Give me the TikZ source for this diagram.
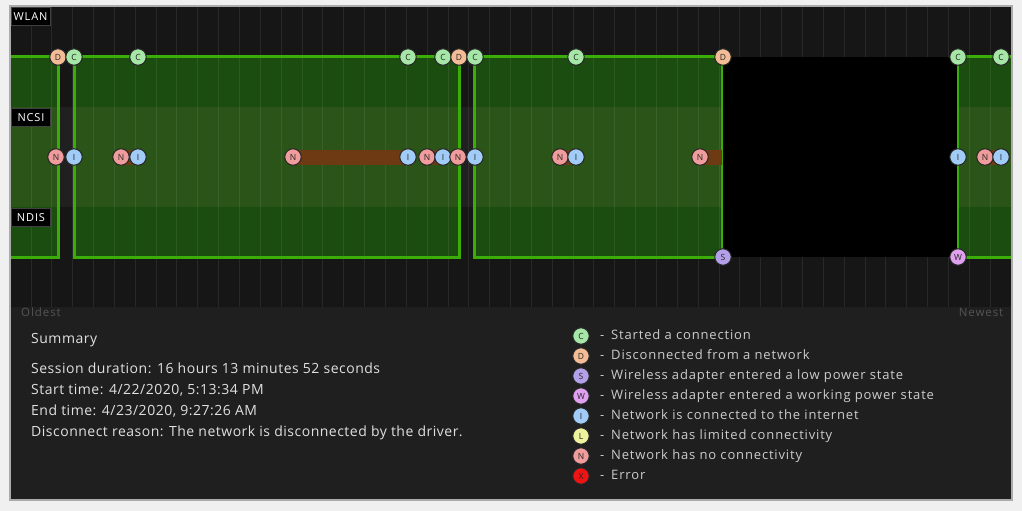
\documentclass[tikz,border=0pt]{standalone}
\usepackage{fontspec}
\setmainfont{Open Sans}
\newfontfamily\infofont[LetterSpace=3.6]{Open Sans}
\newfontfamily\keyfont[LetterSpace=6.5]{Open Sans}
\newfontfamily\tagfont[LetterSpace=8]{Open Sans}
\usetikzlibrary{positioning,backgrounds}
\definecolor{pagebg}{HTML}{F0F0F0}
\definecolor{framegray}{HTML}{ABABAB}
\definecolor{panelbg}{HTML}{1F1F1F}
\definecolor{chartbg}{HTML}{161616}
\definecolor{gapband}{HTML}{202020}
\definecolor{sessgreen}{HTML}{1B4C10}
\definecolor{bandgreen}{HTML}{2B5418}
\definecolor{edgegreen}{HTML}{3BAD08}
\definecolor{nointernet}{HTML}{6E3A14}
\definecolor{gridgray}{HTML}{FFFFFF}
\definecolor{stC}{HTML}{A6E6A6}
\definecolor{stD}{HTML}{F4BC96}
\definecolor{stS}{HTML}{B4A0E8}
\definecolor{stW}{HTML}{E0A0F0}
\definecolor{stI}{HTML}{A2CCF8}
\definecolor{stL}{HTML}{EEF29C}
\definecolor{stN}{HTML}{F09C9C}
\definecolor{stX}{HTML}{EE1414}

\begin{document}
\begin{tikzpicture}[
    x=1pt,y=-1pt,
    event/.style={
        circle,
        draw=black!85,
        line width=1pt,
        minimum size=16.5pt,
        inner sep=0pt,
        text=black!85,
        font=\fontsize{8.5}{8.5}\selectfont
    },
    tag/.style={
        draw=black!75!white,
        fill=black,
        line width=1pt,
        text=white,
        minimum width=39pt,
        minimum height=18pt,
        inner sep=0pt,
        font=\tagfont\fontsize{11}{11}\selectfont
    },
    edge/.style={draw=edgegreen,line width=3pt,line cap=butt},
    thinedge/.style={draw=edgegreen,line width=1.5pt},
    gapbar/.style={draw=nointernet,line width=15pt},
    infotext/.style={anchor=base west,inner sep=0pt,text=white!88!black,font=\infofont\fontsize{14}{14}\selectfont},
    legendtext/.style={anchor=base west,inner sep=0pt,text=white!80!black,font=\keyfont\fontsize{13}{13}\selectfont},
    endtext/.style={anchor=base,inner sep=0pt,text=white!33!black,font=\tagfont\fontsize{11.5}{11.5}\selectfont}
]
\useasboundingbox (0,0) rectangle (1022,511);

% event markers on the three rows
\foreach \xpos/\kind/\id in {58/D/d1,74/C/c1,138/C/c2,408/C/c3,443/C/c4,459/D/d2,475/C/c5,576/C/c6,723/D/d3,958/C/c7,1001/C/c8}
    \node[event,fill=st\kind] (\id) at (\xpos,57) {\kind};
\foreach \xpos/\kind/\id in {56/N/n1,74/I/i1,121/N/n2,138/I/i2,293/N/n3,408/I/i3,427/N/n4,443/I/i4,458/N/n5,475/I/i5,560/N/n6,576/I/i6,700/N/n7,958/I/i7,985/N/n8,1001/I/i8}
    \node[event,fill=st\kind] (\id) at (\xpos,157) {\kind};
\node[event,fill=stS] (s1) at (723,257) {S};
\node[event,fill=stW] (w1) at (958,257) {W};

\begin{scope}[on background layer]
    \fill[pagebg] (0,0) rectangle (1022,511);
    \fill[framegray] (9,5) rectangle (1013,501);
    \fill[panelbg] (11,7) rectangle (1011,499);
    \fill[chartbg] (11,7) rectangle (1011,307);
    \fill[gapband] (11,107) rectangle (1011,207);
    % sessions
    \foreach \xa/\xb in {11/58,74/459,474/722,958/1011} {
        \fill[sessgreen] (\xa,57) rectangle (\xb,257);
        \fill[bandgreen] (\xa,107) rectangle (\xb,207);
    }
    \foreach \k in {0,...,46}
        \draw[gridgray,opacity=0.08,line width=1pt] (31+20.85*\k,7) -- (31+20.85*\k,307);
    \fill[black] (722,57) rectangle (958,257);
    \draw[edge] (11,57) -- (58,57) -- (58,257) -- (11,257);
    \draw[edge] (459,57) -- (74,57) -- (74,257) -- (459,257) -- cycle;
    \draw[edge] (722,57) -- (474,57) -- (474,257) -- (722,257);
    \draw[edge] (1011,57) -- (958,57);
    \draw[edge] (958,257) -- (1011,257);
    \draw[thinedge] (722,57) -- (722,257);
    \draw[thinedge] (958,57) -- (958,257);
    % no connectivity spans
    \foreach \from/\to in {n2/i2,n3/i3,n4/i4,n6/i6,n8/i8}
        \draw[gapbar] (\from.center) -- (\to.center);
    \draw[gapbar] (n7.center) -- (722,157);
\end{scope}

\node[tag] (wlan) at (30.5,17) {WLAN};
\node[tag] (ncsi) at (31,117.5) {NCSI};
\node[tag] (ndis) at (31,217.5) {NDIS};

\node[endtext] (oldest) at (41,316) {Oldest};
\node[endtext] (newest) at (981,316) {Newest};

% summary block
\node[infotext] (summary) at (31,343) {Summary};
\node[infotext] (duration) at (31,373.5) {Session duration: 16 hours 13 minutes 52 seconds};
\node[infotext] (start) at (31,394.5) {Start time: 4/22/2020, 5:13:34 PM};
\node[infotext] (end) at (31,415) {End time: 4/23/2020, 9:27:26 AM};
\node[infotext] (reason) at (31,436) {Disconnect reason: The network is disconnected by the driver.};

% legend
\foreach \kind/\desc [count=\row from 0] in {
    C/Started a connection,
    D/Disconnected from a network,
    S/Wireless adapter entered a low power state,
    W/Wireless adapter entered a working power state,
    I/Network is connected to the internet,
    L/Network has limited connectivity,
    N/Network has no connectivity,
    X/Error} {
    \node[event,fill=st\kind] (key\kind) at (581,336+20*\row) {\kind};
    \node[legendtext] (dash\kind) at (600,339+20*\row) {-};
    \node[legendtext] (desc\kind) at (611,339+20*\row) {\desc};
}
\end{tikzpicture}
\end{document}
